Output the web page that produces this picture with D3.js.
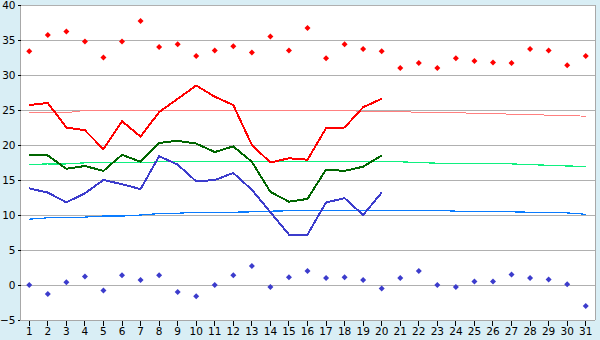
<!DOCTYPE html>
<html><head><meta charset="utf-8">
<script src="https://cdn.jsdelivr.net/npm/d3@7"></script>
<style>
html,body{margin:0;padding:0;background:#d9eef5;}
svg{display:block;}
text{font-family:"DejaVu Sans",Verdana,sans-serif;}
</style></head>
<body>
<script>
const days = [1,2,3,4,5,6,7,8,9,10,11,12,13,14,15,16,17,18,19,20,21,22,23,24,25,26,27,28,29,30,31];
const yTicks = [-5,0,5,10,15,20,25,30,35,40];
const recordMax = [33.4,35.7,36.2,34.8,32.5,34.8,37.7,34.0,34.4,32.7,33.5,34.1,33.2,35.5,33.5,36.7,32.4,34.4,33.7,33.4,31.0,31.7,31.0,32.4,32.0,31.8,31.7,33.7,33.5,31.4,32.7];
const recordMin = [0.0,-1.3,0.4,1.2,-0.8,1.4,0.7,1.4,-1.0,-1.6,0.0,1.4,2.7,-0.3,1.1,2.0,1.0,1.1,0.7,-0.5,1.0,2.0,0.0,-0.3,0.5,0.5,1.5,1.0,0.8,0.1,-3.0];
const maxTemp = [25.7,26.0,22.5,22.1,19.4,23.4,21.2,24.7,26.6,28.5,26.9,25.7,20.0,17.5,18.1,17.9,22.4,22.5,25.4,26.6];
const meanTemp = [18.6,18.5,16.6,17.0,16.3,18.6,17.6,20.3,20.6,20.2,19.0,19.8,17.6,13.3,11.9,12.3,16.5,16.3,16.9,18.5];
const minTemp = [13.8,13.2,11.8,13.1,15.0,14.4,13.7,18.4,17.2,14.8,15.0,16.0,13.6,10.4,7.2,7.2,11.8,12.4,10.0,13.2];
const normMax = [24.6,24.6,24.6,24.95,24.95,24.95,24.95,24.95,24.95,24.95,24.95,24.95,24.95,24.95,24.95,24.95,24.95,24.95,24.8,24.8,24.8,24.65,24.65,24.65,24.5,24.5,24.4,24.4,24.25,24.25,24.1];
const normMean = [17.2,17.3,17.3,17.45,17.45,17.45,17.45,17.6,17.6,17.7,17.65,17.62,17.62,17.62,17.62,17.62,17.62,17.62,17.62,17.6,17.6,17.5,17.4,17.4,17.4,17.38,17.3,17.2,17.1,17.0,16.95];
const normMin = [9.4,9.6,9.6,9.7,9.85,9.85,10.0,10.2,10.25,10.4,10.4,10.4,10.45,10.55,10.6,10.6,10.7,10.7,10.7,10.7,10.7,10.7,10.65,10.55,10.55,10.45,10.45,10.4,10.4,10.3,10.1];

const W = 600, H = 340;
const svg = d3.select("body").append("svg").attr("width", W).attr("height", H);
svg.append("rect").attr("width", W).attr("height", H).attr("fill", "#d9eef5");

const x = d3.scaleBand().domain(days).range([20, 595]).padding(0);
const y = d3.scaleLinear().domain([-5, 40]).range([320, 5]);
const cx = d => x(d) + x.bandwidth() / 2;

svg.append("rect").attr("x", 20).attr("y", 5).attr("width", 575).attr("height", 315).attr("fill", "#ffffff");

// gridlines
svg.append("g").selectAll("line").data(yTicks).join("line")
  .attr("x1", 20).attr("x2", 595)
  .attr("y1", d => Math.round(y(d)) + 0.5).attr("y2", d => Math.round(y(d)) + 0.5)
  .attr("stroke", "#b0b0b0").attr("stroke-width", 1).attr("shape-rendering", "crispEdges");

function drawLine(vals, color, width) {
  const line = d3.line().x((v, i) => cx(days[i])).y(v => y(v));
  svg.append("path").datum(vals).attr("d", line)
    .attr("fill", "none").attr("stroke", color).attr("stroke-width", width)
    .attr("shape-rendering", "crispEdges").attr("stroke-linejoin", "round");
}
drawLine(normMax, "#ff8080", 1);
drawLine(normMean, "#10f080", 1.2);
drawLine(normMin, "#0a7cff", 1.2);
drawLine(maxTemp, "#ff0000", 2);
drawLine(meanTemp, "#006600", 2);
drawLine(minTemp, "#3c3ccc", 2);

const diamond = "M0,-3L3,0L0,3L-3,0Z";
svg.append("g").selectAll("path").data(recordMax).join("path")
  .attr("d", diamond).attr("transform", (v, i) => `translate(${cx(days[i])},${y(v)})`)
  .attr("fill", "#ff0000");
svg.append("g").selectAll("path").data(recordMin).join("path")
  .attr("d", diamond).attr("transform", (v, i) => `translate(${cx(days[i])},${y(v)})`)
  .attr("fill", "#3c3ccc");

// frame right
svg.append("line").attr("x1", 595.5).attr("x2", 595.5).attr("y1", 5).attr("y2", 320)
  .attr("stroke", "#a8a8a8").attr("shape-rendering", "crispEdges");

// axes
const gy = svg.append("g").attr("transform", "translate(20.5,0)")
  .call(d3.axisLeft(y).tickValues(yTicks).tickSize(3).tickPadding(2));
const gx = svg.append("g").attr("transform", "translate(0,320.5)")
  .call(d3.axisBottom(x).tickSize(5).tickPadding(2));
[gy, gx].forEach(g => {
  g.select(".domain").attr("stroke", "#a8a8a8").attr("shape-rendering", "crispEdges");
  g.selectAll(".tick line").attr("stroke", "#000").attr("shape-rendering", "crispEdges");
  g.selectAll(".tick text").attr("fill", "#000").style("font-size", "10.5px")
    .style("font-family", "'DejaVu Sans', Verdana, sans-serif");
});
gy.select(".domain").attr("d", "M0,5V320");
gx.select(".domain").attr("d", "M20,0H595");
</script>
</body></html>
